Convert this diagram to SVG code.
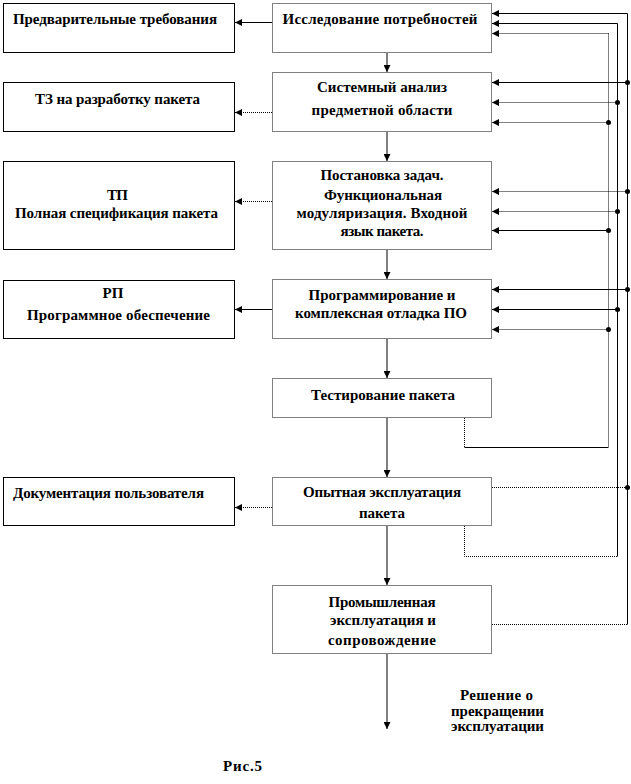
<svg xmlns="http://www.w3.org/2000/svg" width="631" height="784" viewBox="0 0 631 784">
<defs>
<marker id="ah" viewBox="0 0 8 8" refX="8" refY="4" markerWidth="7" markerHeight="7" markerUnits="userSpaceOnUse" orient="auto">
<path d="M0,0 L8,4 L0,8 z" fill="#000"/>
</marker>
</defs>
<style>
.lb{fill:#fff;stroke:#000;stroke-width:1}
.cb{fill:#fff;stroke:#000;stroke-width:1;stroke-dasharray:1 1}
text{font-family:"Liberation Serif","Times New Roman",serif;font-weight:bold;font-size:15px;fill:#000}
.c{text-anchor:middle}
.s{fill:none;stroke:#000;stroke-width:1}
.d{fill:none;stroke:#000;stroke-width:1;stroke-dasharray:1 1}
.a{marker-end:url(#ah)}
.dot{fill:#000}
</style>
<rect width="631" height="784" fill="#fff"/>

<g id="left-nodes">
<g id="n-pre"><rect class="lb" x="3.5" y="3.5" width="231" height="49"/><text x="13" y="24" textLength="204">Предварительные требования</text></g>
<g id="n-tz"><rect class="lb" x="3.5" y="82.5" width="231" height="49"/><text class="c" x="117.5" y="104" textLength="165">ТЗ на разработку пакета</text></g>
<g id="n-tp"><rect class="lb" x="3.5" y="161.5" width="231" height="88"/><text class="c" x="117.5" y="200" textLength="21">ТП</text><text class="c" x="116.5" y="218" textLength="203">Полная  спецификация пакета</text></g>
<g id="n-rp"><rect class="lb" x="3.5" y="280.5" width="231" height="58"/><text class="c" x="113" y="298" textLength="21">РП</text><text class="c" x="118.5" y="320" textLength="183">Программное обеспечение</text></g>
<g id="n-doc"><rect class="lb" x="3.5" y="477.5" width="231" height="48"/><text x="13" y="498" textLength="191">Документация пользователя</text></g>
</g>

<g id="center-nodes">
<g id="n1"><rect class="cb" x="272.5" y="3.5" width="219" height="49"/><text class="c" x="380" y="24" textLength="195">Исследование потребностей</text></g>
<g id="n2"><rect class="cb" x="272.5" y="72.5" width="219" height="59"/><text class="c" x="382" y="92" textLength="130">Системный анализ</text><text class="c" x="382" y="115" textLength="141">предметной области</text></g>
<g id="n3"><rect class="cb" x="272.5" y="161.5" width="219" height="88"/><text class="c" x="382" y="180" textLength="123">Постановка задач.</text><text class="c" x="383" y="200" textLength="118">Функциональная</text><text class="c" x="382" y="218" textLength="171">модуляризация. Входной</text><text class="c" x="382" y="236" textLength="83">язык пакета.</text></g>
<g id="n4"><rect class="cb" x="272.5" y="279.5" width="219" height="59"/><text class="c" x="382" y="300" textLength="147">Программирование и</text><text class="c" x="381" y="318" textLength="172">комплексная  отладка ПО</text></g>
<g id="n5"><rect class="cb" x="272.5" y="378.5" width="219" height="39"/><text class="c" x="383" y="400" textLength="144">Тестирование пакета</text></g>
<g id="n6"><rect class="cb" x="272.5" y="477.5" width="219" height="48"/><text class="c" x="382" y="497" textLength="158">Опытная эксплуатация</text><text class="c" x="382" y="518" textLength="46">пакета</text></g>
<g id="n7"><rect class="cb" x="272.5" y="585.5" width="219" height="68"/><text class="c" x="382" y="607" textLength="107">Промышленная</text><text class="c" x="383" y="625" textLength="106">эксплуатация и</text><text class="c" x="382" y="645" textLength="108">сопровождение</text></g>
</g>

<g id="connectors">
<!-- down flow -->
<line class="s a" x1="387" y1="53" x2="387" y2="72"/>
<line class="s a" x1="387" y1="132" x2="387" y2="161"/>
<line class="s a" x1="387" y1="250" x2="387" y2="279"/>
<line class="s a" x1="387" y1="339" x2="387" y2="378"/>
<line class="s a" x1="387" y1="418" x2="387" y2="477"/>
<line class="s a" x1="387" y1="526" x2="387" y2="585"/>
<line class="s a" x1="387" y1="654" x2="387" y2="729"/>
<!-- to left outputs -->
<line class="s a" x1="272" y1="22.5" x2="235" y2="22.5"/>
<line class="d a" x1="272" y1="112.5" x2="235" y2="112.5"/>
<line class="d a" x1="272" y1="201.5" x2="235" y2="201.5"/>
<line class="s a" x1="272" y1="309.5" x2="235" y2="309.5"/>
<line class="d a" x1="272" y1="507.5" x2="235" y2="507.5"/>
<!-- right feedback verticals -->
<line class="s" x1="627.5" y1="13.5" x2="627.5" y2="624.5"/>
<line class="s" x1="617.5" y1="23.5" x2="617.5" y2="556.5"/>
<line class="d" x1="608.5" y1="33.5" x2="608.5" y2="447.5"/>
<!-- sources -->
<polyline class="d" points="464.5,418 464.5,447.5"/>
<line class="s" x1="464.5" y1="447.5" x2="608.5" y2="447.5"/>
<polyline class="d" points="464.5,526 464.5,556.5 617.5,556.5"/>
<line class="d" x1="492" y1="487.5" x2="627.5" y2="487.5"/>
<circle class="dot" cx="627.5" cy="487.5" r="2.5"/>
<line class="d" x1="492" y1="624.5" x2="627.5" y2="624.5"/>
<!-- into box 1 -->
<line class="s a" x1="627.5" y1="13.5" x2="492" y2="13.5"/>
<line class="s a" x1="617.5" y1="23.5" x2="492" y2="23.5"/>
<line class="d a" x1="608.5" y1="33.5" x2="492" y2="33.5"/>
<!-- into box 2 -->
<line class="s a" x1="627.5" y1="82.5" x2="492" y2="82.5"/>
<line class="d a" x1="617.5" y1="102.5" x2="492" y2="102.5"/>
<line class="d a" x1="608.5" y1="122.5" x2="492" y2="122.5"/>
<circle class="dot" cx="627.5" cy="82.5" r="2.5"/>
<circle class="dot" cx="617.5" cy="102.5" r="2.5"/>
<circle class="dot" cx="608.5" cy="122.5" r="2.5"/>
<!-- into box 3 -->
<line class="d a" x1="627.5" y1="191.5" x2="492" y2="191.5"/>
<line class="d a" x1="617.5" y1="211.5" x2="492" y2="211.5"/>
<line class="s a" x1="608.5" y1="230.5" x2="492" y2="230.5"/>
<circle class="dot" cx="627.5" cy="191.5" r="2.5"/>
<circle class="dot" cx="617.5" cy="211.5" r="2.5"/>
<circle class="dot" cx="608.5" cy="230.5" r="2.5"/>
<!-- into box 4 -->
<line class="s a" x1="627.5" y1="289.5" x2="492" y2="289.5"/>
<line class="s a" x1="617.5" y1="309.5" x2="492" y2="309.5"/>
<line class="d a" x1="608.5" y1="329.5" x2="492" y2="329.5"/>
<circle class="dot" cx="627.5" cy="289.5" r="2.5"/>
<circle class="dot" cx="617.5" cy="309.5" r="2.5"/>
<circle class="dot" cx="608.5" cy="329.5" r="2.5"/>
</g>

<g id="labels">
<text class="c" x="496.5" y="700" textLength="73">Решение о</text>
<text class="c" x="497.5" y="716" textLength="93">прекращении</text>
<text class="c" x="497.5" y="731" textLength="93">эксплуатации</text>
<text x="223" y="771" textLength="39">Рис.5</text>
</g>
</svg>
